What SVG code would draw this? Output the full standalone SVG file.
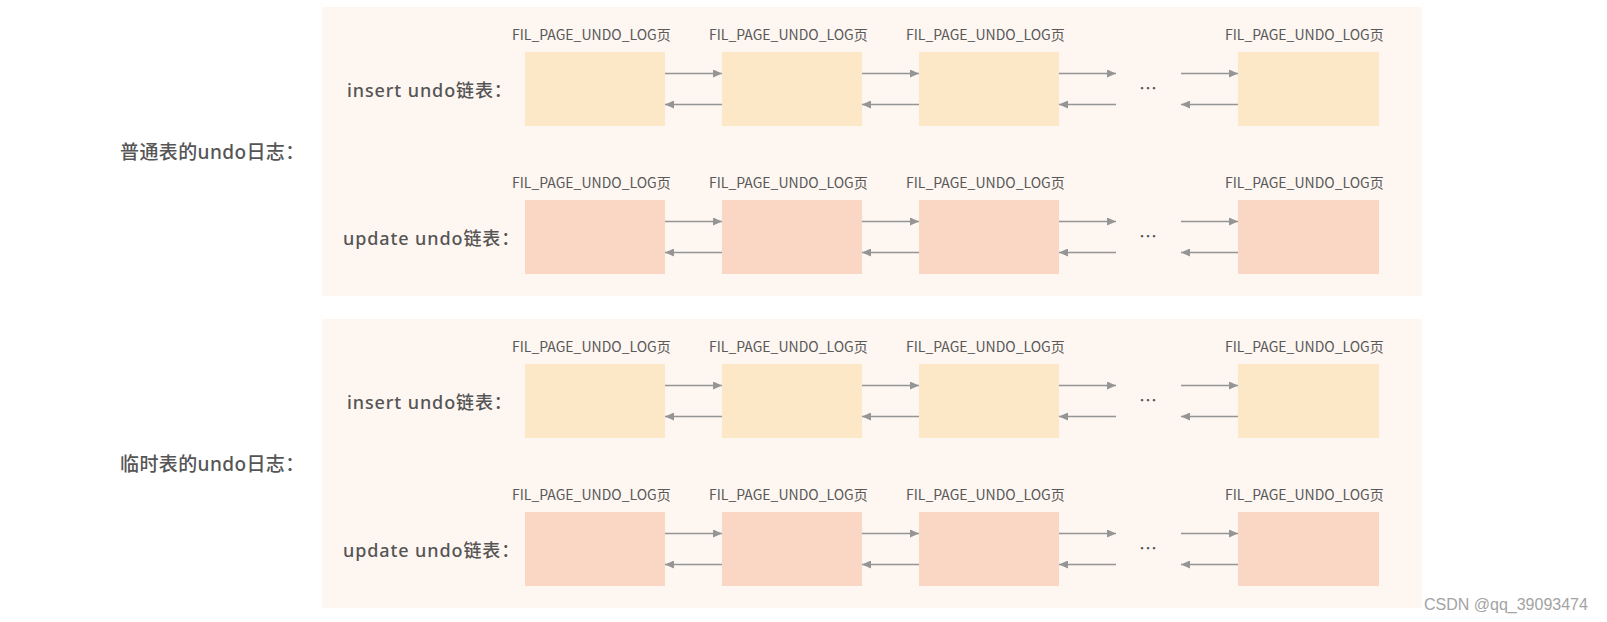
<svg xmlns="http://www.w3.org/2000/svg" width="1607" height="622" viewBox="0 0 1607 622">
<defs>
<style>
.panel{fill:#FEF6F1}
.ins{fill:#FCE7C7}
.upd{fill:#FAD7C5}
.lbl{font-family:"Noto Sans CJK SC","Noto Sans",sans-serif;font-size:14px;fill:#595959}
.row{font-family:"Noto Sans","Noto Sans CJK SC",sans-serif;font-size:18px;font-weight:500;letter-spacing:0.9px;fill:#555555}
.sec{font-family:"Noto Sans","Noto Sans CJK SC",sans-serif;font-size:19px;font-weight:500;letter-spacing:0.4px;fill:#555555}
.dots{font-family:"Noto Sans CJK SC",sans-serif;font-size:18px;fill:#555555;text-anchor:middle}
.wm{font-family:"Liberation Sans",Arial,sans-serif;font-size:16px;fill:#a3a3a3}
.conn line{stroke:#959595;stroke-width:1.5;marker-end:url(#ah)}
</style>
<marker id="ah" markerUnits="userSpaceOnUse" markerWidth="9" markerHeight="8" refX="9" refY="4" orient="auto">
<path d="M0,0 L9,4 L0,8 z" fill="#959595"/>
</marker>
</defs>
<rect width="1607" height="622" fill="#ffffff"/>

<g id="panel-normal"><rect class="panel" x="322" y="7" width="1100" height="289"/></g>
<g id="panel-temp"><rect class="panel" x="322" y="319" width="1100" height="289"/></g>

<g id="section-labels">
<text class="sec" x="120" y="159">普通表的undo日志：</text>
<text class="sec" x="120" y="471">临时表的undo日志：</text>
</g>

<g id="row-labels">
<text class="row" x="347" y="97">insert undo链表：</text>
<text class="row" x="343" y="245">update undo链表：</text>
<text class="row" x="347" y="409">insert undo链表：</text>
<text class="row" x="343" y="557">update undo链表：</text>
</g>

<!-- Panel 1, insert row -->
<g id="n-p1-ins-1"><rect class="ins" x="525" y="52" width="140" height="74"/><text class="lbl" x="512" y="40">FIL_PAGE_UNDO_LOG页</text></g>
<g id="n-p1-ins-2"><rect class="ins" x="722" y="52" width="140" height="74"/><text class="lbl" x="709" y="40">FIL_PAGE_UNDO_LOG页</text></g>
<g id="n-p1-ins-3"><rect class="ins" x="919" y="52" width="140" height="74"/><text class="lbl" x="906" y="40">FIL_PAGE_UNDO_LOG页</text></g>
<g id="n-p1-ins-4"><rect class="ins" x="1238" y="52" width="141" height="74"/><text class="lbl" x="1225" y="40">FIL_PAGE_UNDO_LOG页</text></g>
<!-- Panel 1, update row -->
<g id="n-p1-upd-1"><rect class="upd" x="525" y="200" width="140" height="74"/><text class="lbl" x="512" y="188">FIL_PAGE_UNDO_LOG页</text></g>
<g id="n-p1-upd-2"><rect class="upd" x="722" y="200" width="140" height="74"/><text class="lbl" x="709" y="188">FIL_PAGE_UNDO_LOG页</text></g>
<g id="n-p1-upd-3"><rect class="upd" x="919" y="200" width="140" height="74"/><text class="lbl" x="906" y="188">FIL_PAGE_UNDO_LOG页</text></g>
<g id="n-p1-upd-4"><rect class="upd" x="1238" y="200" width="141" height="74"/><text class="lbl" x="1225" y="188">FIL_PAGE_UNDO_LOG页</text></g>
<!-- Panel 2, insert row -->
<g id="n-p2-ins-1"><rect class="ins" x="525" y="364" width="140" height="74"/><text class="lbl" x="512" y="352">FIL_PAGE_UNDO_LOG页</text></g>
<g id="n-p2-ins-2"><rect class="ins" x="722" y="364" width="140" height="74"/><text class="lbl" x="709" y="352">FIL_PAGE_UNDO_LOG页</text></g>
<g id="n-p2-ins-3"><rect class="ins" x="919" y="364" width="140" height="74"/><text class="lbl" x="906" y="352">FIL_PAGE_UNDO_LOG页</text></g>
<g id="n-p2-ins-4"><rect class="ins" x="1238" y="364" width="141" height="74"/><text class="lbl" x="1225" y="352">FIL_PAGE_UNDO_LOG页</text></g>
<!-- Panel 2, update row -->
<g id="n-p2-upd-1"><rect class="upd" x="525" y="512" width="140" height="74"/><text class="lbl" x="512" y="500">FIL_PAGE_UNDO_LOG页</text></g>
<g id="n-p2-upd-2"><rect class="upd" x="722" y="512" width="140" height="74"/><text class="lbl" x="709" y="500">FIL_PAGE_UNDO_LOG页</text></g>
<g id="n-p2-upd-3"><rect class="upd" x="919" y="512" width="140" height="74"/><text class="lbl" x="906" y="500">FIL_PAGE_UNDO_LOG页</text></g>
<g id="n-p2-upd-4"><rect class="upd" x="1238" y="512" width="141" height="74"/><text class="lbl" x="1225" y="500">FIL_PAGE_UNDO_LOG页</text></g>

<g id="ellipses">
<text class="dots" x="1148" y="95">…</text>
<text class="dots" x="1148" y="243">…</text>
<text class="dots" x="1148" y="407">…</text>
<text class="dots" x="1148" y="555">…</text>
</g>

<g id="connectors" class="conn">
<line x1="665" y1="73.5" x2="722" y2="73.5"/><line x1="862" y1="73.5" x2="919" y2="73.5"/><line x1="1059" y1="73.5" x2="1116" y2="73.5"/><line x1="1181" y1="73.5" x2="1238" y2="73.5"/>
<line x1="722" y1="104.5" x2="665" y2="104.5"/><line x1="919" y1="104.5" x2="862" y2="104.5"/><line x1="1116" y1="104.5" x2="1059" y2="104.5"/><line x1="1238" y1="104.5" x2="1181" y2="104.5"/>
<line x1="665" y1="221.5" x2="722" y2="221.5"/><line x1="862" y1="221.5" x2="919" y2="221.5"/><line x1="1059" y1="221.5" x2="1116" y2="221.5"/><line x1="1181" y1="221.5" x2="1238" y2="221.5"/>
<line x1="722" y1="252.5" x2="665" y2="252.5"/><line x1="919" y1="252.5" x2="862" y2="252.5"/><line x1="1116" y1="252.5" x2="1059" y2="252.5"/><line x1="1238" y1="252.5" x2="1181" y2="252.5"/>
<line x1="665" y1="385.5" x2="722" y2="385.5"/><line x1="862" y1="385.5" x2="919" y2="385.5"/><line x1="1059" y1="385.5" x2="1116" y2="385.5"/><line x1="1181" y1="385.5" x2="1238" y2="385.5"/>
<line x1="722" y1="416.5" x2="665" y2="416.5"/><line x1="919" y1="416.5" x2="862" y2="416.5"/><line x1="1116" y1="416.5" x2="1059" y2="416.5"/><line x1="1238" y1="416.5" x2="1181" y2="416.5"/>
<line x1="665" y1="533.5" x2="722" y2="533.5"/><line x1="862" y1="533.5" x2="919" y2="533.5"/><line x1="1059" y1="533.5" x2="1116" y2="533.5"/><line x1="1181" y1="533.5" x2="1238" y2="533.5"/>
<line x1="722" y1="564.5" x2="665" y2="564.5"/><line x1="919" y1="564.5" x2="862" y2="564.5"/><line x1="1116" y1="564.5" x2="1059" y2="564.5"/><line x1="1238" y1="564.5" x2="1181" y2="564.5"/>
</g>

<text class="wm" x="1424" y="610">CSDN @qq_39093474</text>
</svg>
